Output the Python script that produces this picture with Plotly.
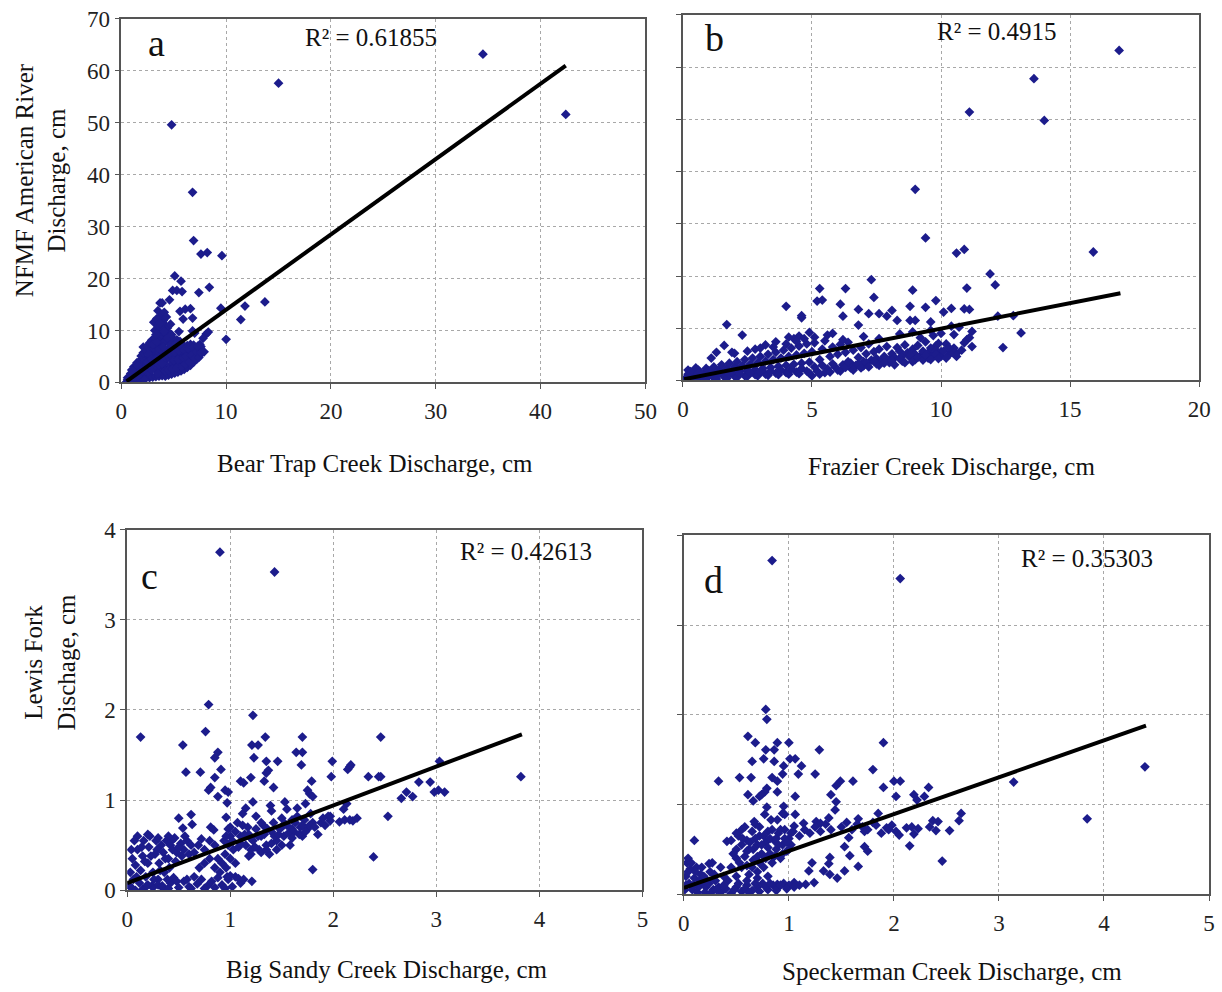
import plotly.graph_objects as go

# ---------------- data ----------------
panel_a_xy = [
    (4.8, 49.6), (15.0, 57.6), (34.5, 63.2), (42.4, 51.6), (6.8, 36.6), (6.9, 27.3), (7.6, 24.7), (8.2, 25.0),
    (9.6, 24.4), (5.1, 20.5), (5.7, 19.5), (4.9, 17.7), (5.3, 17.7), (5.8, 17.5), (7.4, 17.3), (8.4, 18.3),
    (4.6, 15.9), (3.7, 15.3), (3.9, 15.3), (5.6, 13.7), (6.1, 14.1), (6.6, 14.2), (9.5, 14.3), (11.8, 14.7),
    (13.7, 15.5), (11.4, 12.1), (10.0, 8.3), (6.8, 12.4), (5.9, 12.2), (5.5, 9.8), (6.8, 9.9), (7.0, 9.5),
    (7.5, 7.3), (8.1, 9.3), (8.3, 9.7), (3.1, 11.6), (3.2, 10.0), (3.7, 9.5), (4.0, 11.9), (4.2, 11.0),
    (3.5, 13.8), (3.8, 12.8), (4.1, 13.5), (2.1, 6.8), (4.4, 10.5), (4.7, 11.2),
    (0.5, 0.1), (0.6, 0.5), (0.7, 0.3), (0.8, 1.0), (0.9, 1.7), (0.9, 0.4), (1.1, 0.6), (1.1, 1.3),
    (1.2, 2.2), (1.2, 3.0), (1.4, 0.5), (1.4, 1.6), (1.5, 2.7), (1.5, 3.8), (1.7, 0.7), (1.7, 1.9),
    (1.8, 3.0), (1.8, 4.2), (1.9, 5.1), (2.0, 0.6), (2.1, 1.8), (2.0, 3.3), (2.2, 4.4), (2.1, 5.7),
    (2.3, 0.8), (2.4, 2.1), (2.3, 3.2), (2.5, 4.6), (2.4, 6.1), (2.5, 7.0), (2.7, 0.9), (2.6, 2.0),
    (2.8, 3.5), (2.7, 4.9), (2.8, 6.3), (2.7, 7.6), (3.0, 1.0), (2.9, 2.4), (3.1, 3.7), (3.0, 5.2),
    (3.1, 6.6), (2.9, 8.1), (3.3, 1.1), (3.2, 2.6), (3.4, 3.9), (3.3, 5.4), (3.4, 6.9), (3.2, 8.5),
    (3.6, 1.2), (3.5, 2.8), (3.7, 4.1), (3.6, 5.6), (3.5, 7.2), (3.7, 8.7), (3.6, 9.9), (3.9, 1.3),
    (3.8, 2.7), (4.0, 4.3), (3.9, 5.9), (3.8, 7.4), (4.0, 8.9), (3.9, 10.4), (4.2, 1.2), (4.1, 3.0),
    (4.3, 4.5), (4.2, 6.1), (4.1, 7.7), (4.3, 9.2), (4.5, 1.4), (4.4, 3.2), (4.6, 4.7), (4.5, 6.3),
    (4.4, 7.9), (4.6, 9.4), (4.8, 1.6), (4.7, 3.3), (4.9, 4.9), (4.8, 6.6), (4.7, 8.1), (5.1, 1.8),
    (5.0, 3.5), (5.2, 5.1), (5.1, 6.7), (5.0, 8.3), (5.4, 2.0), (5.3, 3.6), (5.5, 5.2), (5.4, 6.8),
    (5.3, 8.2), (5.7, 2.2), (5.6, 3.8), (5.8, 5.4), (5.7, 6.9), (5.6, 7.9), (6.0, 2.5), (5.9, 4.0),
    (6.1, 5.5), (6.0, 7.0), (6.3, 2.9), (6.2, 4.3), (6.4, 5.7), (6.3, 7.1), (6.6, 3.3), (6.5, 4.6),
    (6.7, 5.9), (6.6, 7.3), (6.9, 3.9), (6.8, 5.0), (7.0, 6.2), (6.9, 7.2), (7.2, 4.5), (7.1, 5.5),
    (7.3, 6.5), (7.5, 5.3), (7.4, 6.1), (7.6, 6.9), (7.8, 8.5), (7.9, 5.9),
    (0.6, 0.9), (0.8, 0.2), (1.0, 2.4), (1.3, 1.0), (1.6, 3.2), (1.6, 1.2), (1.9, 2.4), (2.2, 2.6),
    (2.2, 0.5), (2.6, 5.4), (2.5, 3.9), (2.9, 4.5), (3.0, 7.3), (3.3, 4.6), (3.4, 7.8), (3.5, 1.8),
    (3.6, 3.4), (3.7, 6.4), (3.9, 3.6), (4.0, 6.8), (4.1, 9.8), (4.2, 2.2), (4.3, 5.4), (4.4, 8.6),
    (4.5, 2.4), (4.6, 5.6), (4.7, 7.2), (4.8, 9.2), (4.9, 2.6), (5.0, 4.2), (5.1, 5.9), (5.2, 7.4),
    (5.3, 2.8), (5.4, 4.4), (5.5, 6.1), (5.6, 7.3), (5.8, 3.0), (5.9, 4.7), (6.0, 6.2), (6.1, 3.5),
    (6.2, 5.0), (6.4, 6.5), (6.5, 3.9), (6.7, 5.2), (6.8, 6.7), (7.0, 4.6), (7.2, 5.9), (7.4, 4.8),
    (7.6, 5.7), (7.3, 7.0), (3.3, 9.2), (3.5, 10.9), (3.4, 12.3), (3.7, 11.4), (4.3, 12.6),
]

panel_b_xy = [
    (16.9, 63.2), (13.6, 57.8), (11.1, 51.4), (14.0, 49.8), (9.0, 36.6), (9.4, 27.3), (10.9, 25.1), (10.6, 24.4),
    (15.9, 24.6), (11.9, 20.4), (12.1, 18.3), (7.3, 19.3), (5.3, 17.6), (6.3, 17.6), (11.0, 17.7), (8.9, 17.3),
    (7.4, 15.9), (5.2, 15.2), (5.4, 15.4), (6.1, 14.6), (4.0, 14.2), (8.8, 14.2), (9.4, 14.0), (9.8, 15.3),
    (10.9, 13.7), (11.1, 13.6), (10.4, 13.8), (10.1, 13.1), (6.8, 13.6), (7.2, 12.8), (7.6, 12.8), (8.1, 13.4),
    (6.2, 12.3), (7.9, 12.3), (8.3, 11.5), (8.8, 11.5), (9.0, 11.5), (4.6, 12.0), (4.6, 12.4), (6.8, 10.6),
    (9.6, 11.2), (1.7, 10.7), (2.3, 8.7), (13.1, 9.1), (12.4, 6.3), (12.2, 12.3), (12.8, 12.4), (11.2, 9.4),
    (11.0, 7.8), (10.5, 8.8), (10.6, 5.2), (10.3, 4.9), (1.6, 6.7), (1.9, 5.4), (1.3, 5.4), (1.1, 4.3),
    (3.6, 7.4), (4.1, 8.3), (4.5, 8.5), (5.1, 8.3), (10.7, 10.2), (10.4, 10.4), (11.1, 8.2), (11.2, 6.5),
    (10.2, 7.0), (9.8, 6.6), (8.9, 9.3),
    (0.1, 0.4), (0.2, 1.2), (0.3, 0.6), (0.4, 1.6), (0.5, 0.9), (0.6, 2.0), (0.7, 0.5), (0.8, 1.3),
    (0.9, 2.3), (1.0, 0.8), (1.1, 1.7), (1.2, 2.6), (1.3, 1.0), (1.4, 2.0), (1.5, 3.0), (1.6, 1.2),
    (1.7, 2.3), (1.8, 3.3), (1.9, 1.5), (2.0, 2.6), (2.1, 3.6), (2.2, 1.7), (2.3, 2.8), (2.4, 4.0),
    (2.5, 1.9), (2.6, 3.1), (2.7, 4.3), (2.8, 2.1), (2.9, 3.4), (3.0, 4.6), (3.1, 2.3), (3.2, 3.7),
    (3.3, 5.0), (3.4, 2.5), (3.5, 4.0), (3.6, 5.4), (3.7, 2.7), (3.8, 4.3), (3.9, 5.8), (4.0, 2.9),
    (4.1, 4.6), (4.2, 6.2), (4.3, 3.1), (4.4, 4.9), (4.5, 6.6), (4.6, 3.3), (4.7, 5.2), (4.8, 7.0),
    (4.9, 3.5), (5.0, 5.5), (5.1, 7.2), (5.2, 1.8), (5.3, 4.0), (5.4, 6.0), (5.5, 7.6), (5.6, 2.2),
    (5.7, 4.6), (5.8, 6.4), (5.9, 2.6), (6.0, 5.0), (6.1, 6.9), (6.2, 3.0), (6.3, 5.4), (6.4, 7.3),
    (6.5, 3.3), (6.6, 5.8), (6.7, 2.9), (6.8, 4.4), (6.9, 6.3), (7.0, 3.6), (7.1, 5.1), (7.2, 7.0),
    (7.3, 3.9), (7.4, 5.5), (7.5, 4.2), (7.6, 6.0), (7.7, 3.8), (7.8, 4.6), (7.9, 6.5), (8.0, 4.0),
    (8.1, 5.1), (8.2, 4.4), (8.3, 6.3), (8.4, 5.6), (8.5, 4.7), (8.6, 6.8), (8.7, 5.3), (8.8, 4.4),
    (8.9, 6.0), (9.0, 5.0), (9.1, 6.7), (9.2, 4.7), (9.3, 5.6), (9.4, 7.4), (9.5, 5.3), (9.6, 6.2),
    (9.7, 4.9), (9.8, 5.8), (9.9, 7.1), (10.0, 5.5),
    (0.1, 0.1), (0.4, 0.2), (0.8, 0.4), (1.2, 0.5), (1.6, 0.7), (2.0, 0.8), (2.4, 0.9), (2.8, 1.1),
    (3.2, 1.2), (3.6, 1.4), (4.0, 1.5), (4.4, 1.6), (4.8, 1.8), (5.0, 0.9), (5.5, 1.5), (6.0, 2.0),
    (6.5, 2.4), (7.0, 2.8), (7.5, 3.2), (8.0, 3.4), (8.5, 3.7), (9.0, 4.0), (9.5, 4.3), (10.0, 4.6),
    (0.2, 2.0), (0.5, 2.4), (0.3, 1.7),
    (5.6, 8.7), (6.2, 7.8), (7.0, 8.4), (7.6, 8.0), (8.4, 8.9), (9.2, 8.2), (9.7, 8.6), (10.0, 9.0),
    (4.3, 8.0), (5.8, 9.0), (3.2, 6.8), (2.8, 6.0), (4.9, 9.2), (9.6, 9.6),
    (0.2, 0.8), (0.5, 0.3), (0.6, 1.4), (0.9, 0.6), (1.0, 1.9), (1.3, 0.3), (1.4, 1.3), (1.7, 0.4),
    (1.8, 1.2), (2.1, 0.6), (2.2, 1.3), (2.5, 0.8), (2.6, 1.5), (2.9, 0.9), (3.0, 1.7), (3.3, 1.0),
    (3.4, 1.8), (3.7, 1.1), (3.8, 2.0), (4.1, 1.2), (4.2, 2.2), (4.5, 1.3), (4.6, 2.3), (4.9, 1.4),
    (5.1, 2.6), (5.3, 1.2), (5.4, 2.9), (5.7, 1.6), (5.8, 3.2), (6.1, 1.8), (6.3, 2.5), (6.4, 3.6),
    (6.6, 2.0), (6.8, 3.2), (6.9, 2.4), (7.1, 3.4), (7.2, 2.6), (7.4, 3.7), (7.6, 2.9), (7.8, 3.3),
    (8.1, 3.8), (8.2, 3.0), (8.4, 4.2), (8.6, 3.4), (8.8, 4.9), (8.9, 3.6), (9.1, 4.4), (9.3, 3.9),
    (9.4, 4.8), (9.6, 4.0), (9.8, 5.0), (9.9, 4.2), (10.1, 5.6), (10.2, 4.3), (10.4, 5.5), (10.5, 6.2),
    (10.6, 4.6), (10.8, 5.8), (10.9, 7.2), (10.3, 6.3),
    (2.0, 5.2), (2.5, 5.6), (3.0, 6.2), (3.5, 6.4), (4.0, 7.0), (4.4, 7.5), (4.7, 8.0),
]

panel_c_xy = [
    (0.90, 3.75), (1.43, 3.53), (0.79, 2.06), (1.22, 1.94), (0.13, 1.70), (0.76, 1.76), (0.54, 1.61), (1.21, 1.61),
    (1.27, 1.61), (1.34, 1.70), (1.70, 1.70), (0.88, 1.53), (0.85, 1.47), (1.23, 1.47), (1.64, 1.53), (1.70, 1.53),
    (1.69, 1.39), (1.35, 1.43), (1.46, 1.43), (1.99, 1.43), (2.16, 1.37), (0.57, 1.31), (0.71, 1.31), (0.91, 1.34),
    (1.37, 1.33), (1.35, 1.30), (0.85, 1.25), (1.20, 1.25), (1.33, 1.21), (1.10, 1.21), (1.13, 1.19), (1.98, 1.26),
    (1.79, 1.21), (0.81, 1.14), (0.79, 1.11), (1.42, 1.14), (0.95, 1.11), (0.98, 1.09), (0.88, 1.04), (1.75, 1.11),
    (1.77, 1.07), (1.80, 1.04), (0.97, 0.97), (1.22, 0.98), (1.39, 0.94), (1.53, 0.98), (1.65, 0.91), (1.73, 0.96),
    (0.96, 0.81), (1.15, 0.91), (0.50, 0.80), (0.62, 0.84), (0.63, 0.73), (0.54, 0.69), (0.81, 0.70), (0.84, 0.67),
    (0.72, 0.57), (0.69, 0.50), (1.80, 0.23), (1.21, 0.10),
    (2.46, 1.70), (2.14, 1.34), (2.17, 1.39), (2.34, 1.26), (2.44, 1.26), (2.46, 1.26), (3.03, 1.43), (2.83, 1.20),
    (2.94, 1.20), (3.82, 1.26), (2.71, 1.09), (2.66, 1.02), (2.77, 1.04), (2.98, 1.09), (3.02, 1.11), (3.08, 1.09),
    (2.13, 0.96), (2.10, 0.90), (1.97, 0.82), (1.97, 0.77), (2.06, 0.76), (2.11, 0.78), (2.16, 0.78), (2.19, 0.77),
    (2.23, 0.80), (2.53, 0.82), (2.39, 0.37),
    (0.02, 0.05), (0.03, 0.20), (0.05, 0.35), (0.06, 0.12), (0.08, 0.28), (0.10, 0.45), (0.10, 0.60), (0.12, 0.08),
    (0.13, 0.22), (0.15, 0.38), (0.16, 0.55), (0.18, 0.15), (0.20, 0.30), (0.21, 0.48), (0.22, 0.60), (0.24, 0.05),
    (0.25, 0.20), (0.27, 0.40), (0.28, 0.55), (0.30, 0.12), (0.31, 0.30), (0.33, 0.50), (0.35, 0.42), (0.36, 0.20),
    (0.38, 0.55), (0.40, 0.35), (0.42, 0.50), (0.44, 0.45), (0.46, 0.58), (0.48, 0.42), (0.52, 0.52), (0.55, 0.45),
    (0.58, 0.55), (0.60, 0.40),
    (0.05, 0.02), (0.15, 0.01), (0.25, 0.03), (0.35, 0.02), (0.42, 0.08), (0.50, 0.03), (0.55, 0.10), (0.60, 0.04),
    (0.68, 0.07), (0.72, 0.12), (0.78, 0.05), (0.82, 0.10), (0.88, 0.14), (0.92, 0.06), (0.98, 0.12), (1.02, 0.04),
    (1.05, 0.15), (1.10, 0.08), (0.65, 0.15), (0.45, 0.14), (0.30, 0.06),
    (0.90, 0.20), (0.92, 0.30), (0.95, 0.40), (0.96, 0.25), (0.98, 0.50), (1.00, 0.60), (0.94, 0.55), (0.85, 0.25),
    (0.80, 0.35), (0.75, 0.30), (0.70, 0.25),
    (1.00, 0.70), (1.02, 0.55), (1.05, 0.65), (1.08, 0.48), (1.10, 0.60), (1.12, 0.72), (1.15, 0.50), (1.18, 0.62),
    (1.20, 0.40), (1.22, 0.55), (1.25, 0.68), (1.28, 0.45), (1.30, 0.60), (1.32, 0.72), (1.35, 0.50), (1.38, 0.40),
    (1.40, 0.65), (1.42, 0.75), (1.45, 0.55), (1.48, 0.68), (1.50, 0.80), (1.52, 0.60), (1.55, 0.72), (1.58, 0.50),
    (1.60, 0.78), (1.62, 0.65), (1.65, 0.82), (1.68, 0.70), (1.70, 0.60), (1.72, 0.78), (1.75, 0.68), (1.78, 0.85),
    (1.80, 0.75), (1.85, 0.62), (1.88, 0.75), (1.92, 0.72), (1.95, 0.82), (1.25, 0.82), (1.12, 0.85), (1.40, 0.88),
    (1.55, 0.90), (1.30, 0.42), (1.18, 0.38), (1.45, 0.45),
    (0.04, 0.45), (0.07, 0.55), (0.09, 0.15), (0.14, 0.48), (0.17, 0.32), (0.19, 0.05), (0.23, 0.38), (0.26, 0.12),
    (0.29, 0.45), (0.32, 0.22), (0.34, 0.05), (0.37, 0.35), (0.39, 0.12), (0.41, 0.25), (0.43, 0.55), (0.47, 0.32),
    (0.50, 0.48), (0.53, 0.38), (0.56, 0.60), (0.62, 0.50), (0.65, 0.42), (0.40, 0.60), (0.30, 0.58), (0.20, 0.62),
    (0.08, 0.00), (0.20, 0.06), (0.40, 0.02), (0.48, 0.10), (0.58, 0.12), (0.62, 0.02), (0.75, 0.02), (0.85, 0.03),
    (0.95, 0.02), (1.08, 0.13), (1.00, 0.16), (1.13, 0.12),
    (1.03, 0.45), (1.07, 0.75), (1.10, 0.52), (1.14, 0.62), (1.17, 0.70), (1.20, 0.58), (1.24, 0.48), (1.27, 0.60),
    (1.30, 0.75), (1.33, 0.62), (1.36, 0.68), (1.40, 0.52), (1.43, 0.60), (1.47, 0.62), (1.50, 0.70), (1.53, 0.74),
    (1.57, 0.64), (1.60, 0.68), (1.63, 0.75), (1.67, 0.62), (1.70, 0.72), (1.73, 0.65), (1.77, 0.72), (1.82, 0.70),
    (1.90, 0.80), (1.60, 0.58), (1.50, 0.50), (1.35, 0.45), (1.20, 0.45), (0.98, 0.68), (0.96, 0.60), (1.00, 0.35),
    (0.97, 0.15), (1.05, 0.30), (0.85, 0.50), (0.80, 0.55), (0.75, 0.45), (0.88, 0.35),
]

panel_d_xy = [
    (0.84, 3.72), (2.06, 3.52), (0.78, 2.06), (0.79, 1.95), (0.61, 1.76), (0.68, 1.69), (0.89, 1.69), (1.00, 1.69),
    (0.78, 1.61), (0.86, 1.61), (1.29, 1.61), (1.90, 1.69), (0.76, 1.51), (0.86, 1.48), (0.65, 1.48), (1.01, 1.51),
    (1.06, 1.51), (0.95, 1.43), (1.12, 1.43), (1.09, 1.34), (1.25, 1.34), (1.80, 1.39), (0.33, 1.26), (0.53, 1.30),
    (0.64, 1.30), (0.84, 1.30), (0.89, 1.26), (0.89, 1.14), (0.79, 1.18), (0.77, 1.14), (0.74, 1.11), (0.72, 1.09),
    (0.61, 1.11), (0.66, 1.04), (0.94, 1.34), (1.49, 1.26), (1.45, 1.21), (1.61, 1.26), (1.90, 1.19), (2.00, 1.26),
    (2.02, 1.09), (1.40, 1.11), (1.45, 1.03), (1.44, 0.94), (1.06, 1.09), (0.79, 0.97), (0.95, 0.98), (0.94, 0.90),
    (1.06, 0.89), (0.77, 0.89), (0.83, 0.83), (0.89, 0.83), (0.96, 0.89), (0.67, 0.81), (1.38, 0.85), (1.26, 0.81),
    (1.30, 0.79), (1.05, 0.76), (1.14, 0.79), (0.10, 0.60), (0.41, 0.59), (0.24, 0.34), (1.66, 0.84), (1.72, 0.70),
    (1.83, 0.77), (1.93, 0.74), (2.02, 0.70), (2.12, 0.74), (1.57, 0.63), (1.53, 0.53), (1.72, 0.53), (1.75, 0.48),
    (1.58, 0.43), (1.39, 0.41), (1.38, 0.34), (1.33, 0.26), (1.22, 0.35), (1.19, 0.26), (1.66, 0.31), (1.53, 0.26),
    (1.46, 0.18), (1.39, 0.22), (1.24, 0.13), (1.16, 0.11), (1.05, 0.13), (0.89, 0.11),
    (2.06, 1.26), (2.33, 1.19), (2.19, 1.11), (2.29, 1.09), (2.22, 1.05), (1.85, 0.90), (3.14, 1.25), (3.84, 0.84),
    (4.39, 1.42), (2.64, 0.90), (2.62, 0.82), (2.37, 0.82), (2.42, 0.81), (2.34, 0.75), (2.40, 0.71), (2.53, 0.71),
    (2.15, 0.54), (2.46, 0.37), (1.88, 0.68), (1.95, 0.72), (2.05, 0.66), (2.17, 0.75), (2.23, 0.73), (2.19, 0.67),
    (1.98, 0.77),
    (0.45, 0.60), (0.50, 0.50), (0.52, 0.65), (0.55, 0.55), (0.58, 0.42), (0.60, 0.60), (0.62, 0.50), (0.65, 0.70),
    (0.66, 0.38), (0.70, 0.55), (0.72, 0.65), (0.74, 0.45), (0.76, 0.30), (0.78, 0.58), (0.80, 0.70), (0.82, 0.45),
    (0.84, 0.35), (0.86, 0.60), (0.88, 0.50), (0.90, 0.68), (0.92, 0.40), (0.94, 0.55), (0.96, 0.72), (0.98, 0.48),
    (1.00, 0.62), (1.02, 0.55), (1.04, 0.70), (0.55, 0.72), (0.68, 0.78), (0.60, 0.32), (0.70, 0.25), (0.80, 0.20),
    (0.62, 0.22), (0.50, 0.20),
    (0.01, 0.05), (0.02, 0.20), (0.03, 0.35), (0.05, 0.12), (0.06, 0.28), (0.08, 0.05), (0.10, 0.18), (0.12, 0.30),
    (0.14, 0.08), (0.16, 0.22), (0.18, 0.12), (0.20, 0.02), (0.22, 0.15), (0.25, 0.25), (0.28, 0.05), (0.30, 0.15),
    (0.33, 0.08), (0.04, 0.40),
    (0.35, 0.02), (0.40, 0.06), (0.45, 0.01), (0.50, 0.08), (0.55, 0.03), (0.60, 0.10), (0.65, 0.04), (0.70, 0.08),
    (0.75, 0.12), (0.80, 0.05), (0.85, 0.10), (0.90, 0.08), (0.95, 0.12), (1.00, 0.10), (1.10, 0.10), (0.42, 0.15),
    (0.38, 0.20), (0.45, 0.30), (0.35, 0.30),
    (1.10, 0.65), (1.15, 0.72), (1.20, 0.68), (1.25, 0.75), (1.30, 0.70), (1.35, 0.78), (1.40, 0.72), (1.50, 0.75),
    (1.55, 0.80), (1.60, 0.72), (1.65, 0.78), (1.70, 0.75), (1.75, 0.72), (1.80, 0.80),
    (0.47, 0.45), (0.50, 0.68), (0.53, 0.35), (0.56, 0.62), (0.58, 0.75), (0.60, 0.48), (0.63, 0.58), (0.66, 0.50),
    (0.68, 0.62), (0.70, 0.42), (0.72, 0.75), (0.74, 0.55), (0.76, 0.65), (0.78, 0.40), (0.80, 0.52), (0.82, 0.62),
    (0.84, 0.72), (0.86, 0.42), (0.88, 0.62), (0.90, 0.55), (0.92, 0.72), (0.94, 0.45), (0.96, 0.62), (0.98, 0.58),
    (1.00, 0.50), (1.02, 0.68), (0.55, 0.30), (0.65, 0.30), (0.72, 0.35), (0.50, 0.40),
    (0.02, 0.10), (0.04, 0.25), (0.07, 0.35), (0.09, 0.10), (0.11, 0.25), (0.13, 0.02), (0.15, 0.15), (0.17, 0.30),
    (0.19, 0.20), (0.21, 0.08), (0.24, 0.12), (0.26, 0.02), (0.29, 0.22), (0.31, 0.05), (0.27, 0.35),
    (0.38, 0.10), (0.48, 0.05), (0.52, 0.12), (0.58, 0.06), (0.62, 0.02), (0.68, 0.12), (0.72, 0.03), (0.78, 0.08),
    (0.82, 0.12), (0.88, 0.04), (0.92, 0.10), (0.98, 0.06), (1.05, 0.08), (0.70, 0.18), (0.60, 0.15),
]

# linear trend lines (end points)
trend_a_x, trend_a_y = [0.5, 42.4], [0.2, 61.0]
trend_b_x, trend_b_y = [0.05, 16.95], [0.25, 16.7]
trend_c_x, trend_c_y = [0.0, 3.83], [0.08, 1.73]
trend_d_x, trend_d_y = [0.0, 4.40], [0.07, 1.88]

r2_labels = ["R² = 0.61855", "R² = 0.4915", "R² = 0.42613", "R² = 0.35303"]
panel_letters = ["a", "b", "c", "d"]
x_titles = ["Bear Trap Creek Discharge, cm", "Frazier Creek Discharge, cm",
            "Big Sandy Creek Discharge, cm", "Speckerman Creek Discharge, cm"]
y_titles = ["NFMF American River<br>Discharge, cm", "Lewis Fork<br>Dischage, cm"]

x_ticks_a = [0, 10, 20, 30, 40, 50]
x_ticks_b = [0, 5, 10, 15, 20]
y_ticks_top = [0, 10, 20, 30, 40, 50, 60, 70]
ticks_bottom = [0, 1, 2, 3, 4, 5]

# ---------------- figure ----------------
W, H = 1222, 992
FONT = "Liberation Serif, Times New Roman, serif"
MARK = "#1c1c8c"

def px_x(p):
    return p / W

def px_y(p):
    return 1 - p / H

fig = go.Figure()

panels = [
    ("x", "y", panel_a_xy, trend_a_x, trend_a_y),
    ("x2", "y2", panel_b_xy, trend_b_x, trend_b_y),
    ("x3", "y3", panel_c_xy, trend_c_x, trend_c_y),
    ("x4", "y4", panel_d_xy, trend_d_x, trend_d_y),
]
for xa, ya, pts, tx, ty in panels:
    fig.add_trace(go.Scatter(
        x=[p[0] for p in pts], y=[p[1] for p in pts], mode="markers",
        marker=dict(symbol="diamond", size=7.5, color=MARK, line=dict(width=0)),
        xaxis=xa, yaxis=ya, showlegend=False, hoverinfo="x+y"))
    fig.add_trace(go.Scatter(
        x=tx, y=ty, mode="lines", line=dict(color="black", width=4),
        xaxis=xa, yaxis=ya, showlegend=False, hoverinfo="skip"))

common = dict(
    showline=True, linecolor="#555555", linewidth=1.5, mirror=True,
    ticks="outside", ticklen=5, tickcolor="#555555", tickwidth=1.2,
    showgrid=True, gridcolor="#a8a8a8", griddash="dot", gridwidth=1,
    zeroline=False, tickfont=dict(family=FONT, size=23, color="#222222"),
    fixedrange=True,
)

domains = {
    "a": ([px_x(117), px_x(649)], [px_y(380), px_y(7)]),
    "b": ([px_x(687), px_x(1211)], [px_y(378), px_y(3)]),
    "c": ([px_x(123), px_x(646)], [px_y(901), px_y(531)]),
    "d": ([px_x(688), px_x(1221)], [px_y(905), px_y(537)]),
}

fig.update_layout(
    width=W, height=H, autosize=False,
    margin=dict(l=0, r=0, t=0, b=0),
    paper_bgcolor="white", plot_bgcolor="white",
    font=dict(family=FONT, color="#222222"),
    xaxis=dict(common, domain=domains["a"][0], anchor="y", range=[0, 50], tickvals=x_ticks_a, ticklabelstandoff=2),
    yaxis=dict(common, domain=domains["a"][1], anchor="x", range=[0, 70], tickvals=y_ticks_top),
    xaxis2=dict(common, domain=domains["b"][0], anchor="y2", range=[0, 20], tickvals=x_ticks_b, ticklabelstandoff=2),
    yaxis2=dict(common, domain=domains["b"][1], anchor="x2", range=[0, 70], tickvals=y_ticks_top, showticklabels=False),
    xaxis3=dict(common, domain=domains["c"][0], anchor="y3", range=[0, 5], tickvals=ticks_bottom, ticklabelstandoff=2),
    yaxis3=dict(common, domain=domains["c"][1], anchor="x3", range=[0, 4], tickvals=ticks_bottom[:5]),
    xaxis4=dict(common, domain=domains["d"][0], anchor="y4", range=[0, 5], tickvals=ticks_bottom, ticklabelstandoff=2),
    yaxis4=dict(common, domain=domains["d"][1], anchor="x4", range=[0, 4], tickvals=ticks_bottom[:5], showticklabels=False),
)

ann = []
def add_text(text, x, y, size, angle=0):
    ann.append(dict(text=text, x=px_x(x), y=px_y(y), xref="paper", yref="paper",
                    xanchor="center", yanchor="middle", showarrow=False, textangle=angle,
                    font=dict(family=FONT, size=size, color="#111111")))

# panel letters
add_text(panel_letters[0], 153, 32, 38)
add_text(panel_letters[1], 719, 27, 38)
add_text(panel_letters[2], 146, 579, 38)
add_text(panel_letters[3], 718, 583, 38)
# R² labels
add_text(r2_labels[0], 370, 26, 25)
add_text(r2_labels[1], 1006, 20, 25)
add_text(r2_labels[2], 528, 553, 25)
add_text(r2_labels[3], 1097, 561, 25)
# x titles
add_text(x_titles[0], 375, 463, 25)
add_text(x_titles[1], 960, 466, 25)
add_text(x_titles[2], 387, 982, 25)
add_text(x_titles[3], 960, 984, 25)
# y titles
add_text(y_titles[0], 35, 172, 25, -90)
add_text(y_titles[1], 45, 667, 25, -90)

fig.update_layout(annotations=ann)
fig.write_html("out.html", config={"displayModeBar": False},
               post_script="document.body.style.margin='0';document.body.style.overflow='hidden';")
